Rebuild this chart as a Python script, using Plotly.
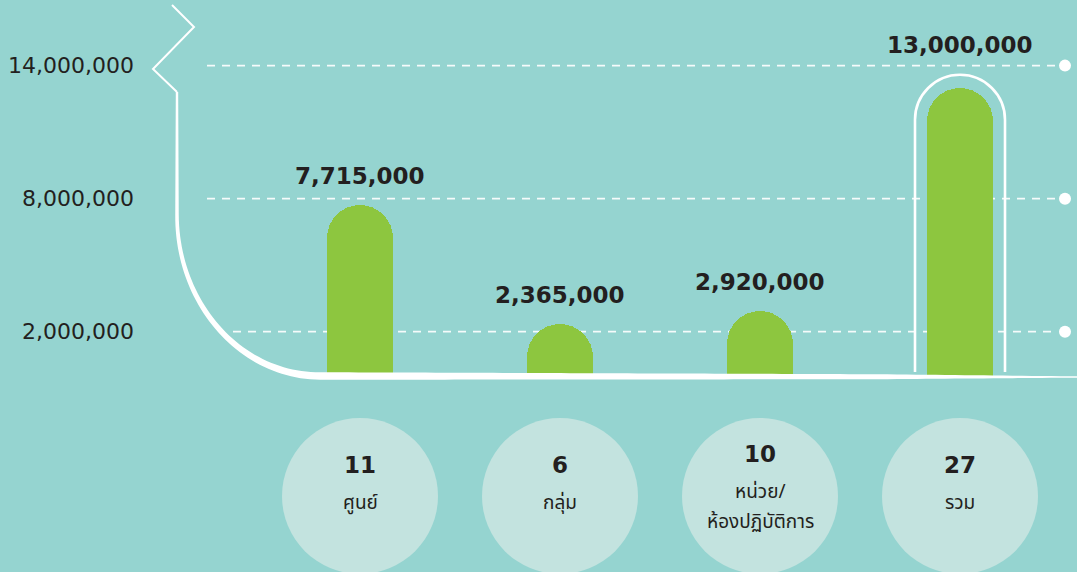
import numpy as np
import plotly.graph_objects as go

# ---------------- data ----------------
categories = ["ศูนย์", "กลุ่ม", "หน่วย/<br>ห้องปฏิบัติการ", "รวม"]
unit_counts = [11, 6, 10, 27]
budgets = [7715000, 2365000, 2920000, 13000000]
tick_values = [2000000, 8000000, 14000000]

# ---------------- layout constants ----------------
W, H = 1077, 572
ML, MR = 205, 7
BASE_PX = 376            # pixel row of y = 0
PX_PER_Y = 22.17 / 1e6   # pixels per budget unit
PX_PER_X = 200           # pixels per category step
X0_PX = 360              # pixel column of first category

BG = "#95d4d0"
BAR = "#8dc63f"
CIRCLE = "#c3e3df"
TXT = "#231f20"
NUM_FONT = "DejaVu Sans"
THAI_FONT = "Noto Sans Thai, Loma, Garuda, Tlwg Typo, Sarabun, DejaVu Sans, sans-serif"

x_range = [(ML - X0_PX) / PX_PER_X, (W - MR - X0_PX) / PX_PER_X]
y_range = [-(H - BASE_PX) / PX_PER_Y, BASE_PX / PX_PER_Y]


def px2x(px):
    return (px - X0_PX) / PX_PER_X


def px2paper(px, py):
    return (px - ML) / (W - ML - MR), (H - py) / H


xs = list(range(len(budgets)))

fig = go.Figure()

# bars
fig.add_trace(go.Bar(
    x=xs, y=budgets, width=0.33,
    marker=dict(color=BAR, cornerradius="50%", line=dict(width=0)),
    hoverinfo="skip",
))

# gridline end dots
fig.add_trace(go.Scatter(
    x=[px2x(1065)] * len(tick_values), y=tick_values, mode="markers",
    marker=dict(size=12, color="white"), cliponaxis=False, hoverinfo="skip",
))

shapes = []

# dashed gridlines
for tv in tick_values:
    start_px = 233 if tv == min(tick_values) else 207
    shapes.append(dict(
        type="line", xref="x", yref="y", x0=px2x(start_px), x1=px2x(1055), y0=tv, y1=tv,
        line=dict(color="rgba(255,255,255,0.9)", width=1.6, dash="8px,7px"), layer="below",
    ))

# outline around the total bar
i_tot = len(budgets) - 1
rx = 45 / PX_PER_X
ry = 45 / PX_PER_Y
gap = 13 / PX_PER_Y
ytop = budgets[i_tot] + gap
yc = ytop - ry
yb = 4 / PX_PER_Y
k = 0.5523
xl, xc, xrr = i_tot - rx, i_tot, i_tot + rx
arch = (f"M {xl},{yb} L {xl},{yc} "
        f"C {xl},{yc + k * ry} {xc - k * rx},{ytop} {xc},{ytop} "
        f"C {xc + k * rx},{ytop} {xrr},{yc + k * ry} {xrr},{yc} L {xrr},{yb}")
shapes.append(dict(type="path", xref="x", yref="y", path=arch,
                   line=dict(color="white", width=2.6), layer="above"))


# white frame curve (axis decoration) as filled polygon
def bez(p0, p1, p2, p3, n):
    t = np.linspace(0, 1, n)[:, None]
    return (1 - t) ** 3 * p0 + 3 * (1 - t) ** 2 * t * p1 + 3 * (1 - t) * t ** 2 * p2 + t ** 3 * p3


B = np.column_stack([np.full(20, 177.0), np.linspace(92, 215, 20)])
wB = np.linspace(2.4, 3.5, 20)
C = bez(np.array([177, 215.0]), np.array([177, 304.0]), np.array([241, 376.0]), np.array([320, 376.0]), 50)
wC = np.linspace(3.5, 7.5, 50)
D = np.column_stack([np.linspace(320, 1080, 80), np.linspace(376, 377, 80)])
wD = np.interp(D[:, 0], [320, 880, 1080], [7.5, 5.0, 1.2])
P = np.vstack([B, C[1:], D[1:]])
Wd = np.concatenate([wB, wC[1:], wD[1:]])
T = np.gradient(P, axis=0)
T = T / np.linalg.norm(T, axis=1)[:, None]
N = np.column_stack([-T[:, 1], T[:, 0]])
left = P + N * Wd[:, None] / 2
right = P - N * Wd[:, None] / 2
poly = np.vstack([left, right[::-1]])
pp = [px2paper(a, b) for a, b in poly]
curve_path = "M " + " L ".join(f"{a:.5f},{b:.5f}" for a, b in pp) + " Z"
shapes.append(dict(type="path", xref="paper", yref="paper", path=curve_path,
                   fillcolor="white", line=dict(width=0), layer="above"))

# zigzag break mark
zz = [(172, 5), (194, 27), (153, 69), (177, 92)]
zzp = [px2paper(a, b) for a, b in zz]
shapes.append(dict(type="path", xref="paper", yref="paper",
                   path="M " + " L ".join(f"{a:.5f},{b:.5f}" for a, b in zzp),
                   line=dict(color="white", width=2), layer="above"))

# bottom circles
cy = (H - 496) / H
for i in xs:
    shapes.append(dict(type="circle", xref="x", yref="paper", xsizemode="pixel", ysizemode="pixel",
                       xanchor=i, yanchor=cy, x0=-78, x1=78, y0=-78, y1=78,
                       fillcolor=CIRCLE, line=dict(width=0), layer="below"))

annotations = []
# value labels
for i, v in enumerate(budgets):
    annotations.append(dict(
        x=i, y=v, xref="x", yref="y", text=f"{v:,}", showarrow=False,
        yanchor="bottom", yshift=28 if i == i_tot else 14,
        font=dict(family=NUM_FONT, size=23, color=TXT, weight="bold"),
    ))

# bottom circle texts
for i, (cnt, lab) in enumerate(zip(unit_counts, categories)):
    lines = lab.split("<br>")
    n = len(lines)
    num_py = 465 - 11 * (n - 1)
    first_py = 503 - 11 * (n - 1)
    annotations.append(dict(
        x=i, y=(H - num_py) / H, xref="x", yref="paper", text=str(cnt), showarrow=False,
        yanchor="middle", font=dict(family=NUM_FONT, size=23, color=TXT, weight="bold"),
    ))
    for j, line in enumerate(lines):
        annotations.append(dict(
            x=i, y=(H - (first_py + 30 * j)) / H, xref="x", yref="paper", text=line,
            showarrow=False, yanchor="middle",
            font=dict(family=THAI_FONT, size=19, color=TXT),
        ))

fig.update_layout(
    width=W, height=H,
    margin=dict(l=ML, r=MR, t=0, b=0, pad=0),
    paper_bgcolor=BG, plot_bgcolor=BG,
    showlegend=False,
    shapes=shapes, annotations=annotations,
    xaxis=dict(range=x_range, visible=False, fixedrange=True),
    yaxis=dict(range=y_range, tickvals=tick_values, tickformat=",", showgrid=False,
               zeroline=False, showline=False, ticks="", ticklabelstandoff=70,
               tickfont=dict(family=NUM_FONT, size=22, color=TXT), fixedrange=True),
    bargap=0,
)

fig.write_html(
    "out.html",
    config={"displayModeBar": False},
    post_script="document.body.style.margin='0';document.body.style.overflow='hidden';",
)
